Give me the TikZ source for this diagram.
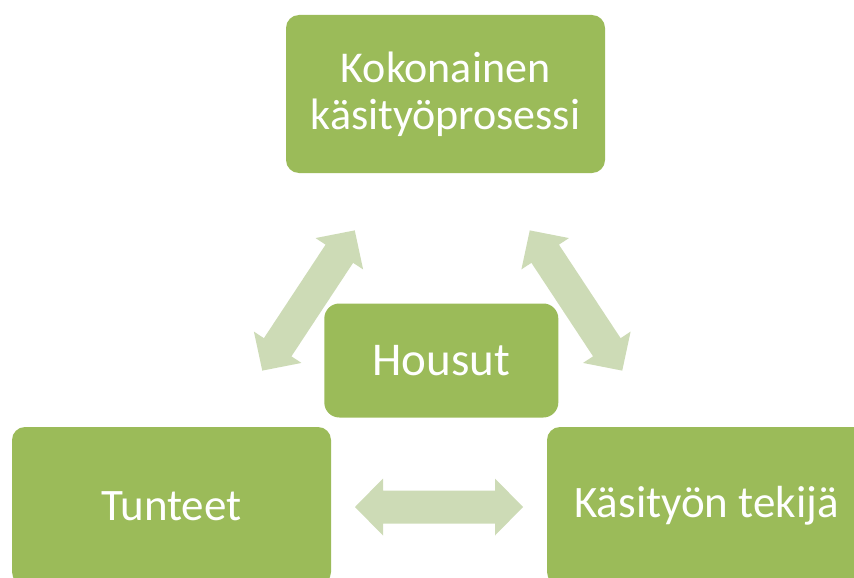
\documentclass[tikz,border=0pt]{standalone}
\usepackage{fontspec}
\setmainfont{Carlito}
\definecolor{boxgreen}{HTML}{9BBB59}
\definecolor{arrowgreen}{HTML}{CDDBB6}
\tikzset{
  box/.style={fill=boxgreen, rounded corners=13pt, text=white, align=center,
    inner sep=0pt, minimum width=319pt, minimum height=158pt},
  arrowfill/.style={fill=arrowgreen, draw=none},
}
\newcommand{\dblarr}[2]{%
  \fill[arrowfill, shift={(#1)}, rotate=#2]
    (-84,0) -- (-56,28.5) -- (-56,16.5) -- (56,16.5) -- (56,28.5) -- (84,0)
    -- (56,-28.5) -- (56,-16.5) -- (-56,-16.5) -- (-56,-28.5) -- cycle;}
\begin{document}
\begin{tikzpicture}[x=1pt, y=-1pt]
\useasboundingbox (0,0) rectangle (854,578);
\clip (0,0) rectangle (854,578);
\node[box, font=\fontsize{44}{47}\selectfont] (top) at (445.5,94) {Kokonainen\\käsityöprosessi};
\node[box, minimum width=234pt, minimum height=114pt, rounded corners=15pt,
  font=\fontsize{47}{55}\selectfont] (mid) at (441.3,360.5) {Housut};
\node[box, font=\fontsize{45}{53}\selectfont] (left) at (171.5,506) {Tunteet};
\node[box, font=\fontsize{45}{53}\selectfont] (right) at (706.5,506) {Käsityön tekijä};
\coordinate (aL) at (308.5,300.5);
\coordinate (aR) at (576,300.5);
\coordinate (aB) at (439,507);
\dblarr{aL}{56.6}
\dblarr{aR}{123.4}
\dblarr{aB}{0}
\end{tikzpicture}
\end{document}
